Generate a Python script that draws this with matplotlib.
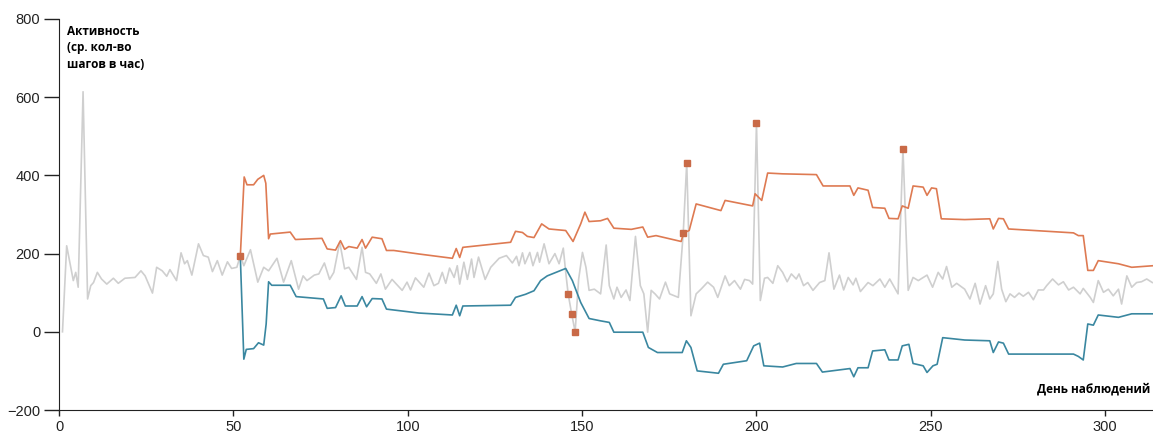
import matplotlib.pyplot as plt

# activity (gray line)
act_days = [1, 2.2, 4.1, 4.8, 5.5, 6.9, 8.2, 9.1, 9.9, 11, 12.2, 13.7, 15.6, 17, 18.9, 21.8,
            23.5, 24.7, 26.8, 28, 29.6, 30.9, 31.8, 33.7, 35, 36, 36.8, 38.1, 40, 41.4, 42.8,
            44, 45.4, 46.8, 48.3, 49.5, 51, 52, 53, 54.9, 57, 58.7, 60.1, 62.5, 64.4, 66.6,
            68.7, 70, 71.1, 73.2, 74.5, 76.1, 77.6, 78.8, 80.5, 81.9, 83.1, 85.3, 86.9, 87.9,
            89.1, 91, 92.3, 93.6, 95.5, 98.4, 99.8, 100.8, 102.2, 104.6, 106.1, 107.5, 108.8,
            109.9, 110.9, 112, 113.3, 114.2, 114.9, 116.1, 117.1, 118.3, 119, 120.3, 122.2,
            123.8, 126.2, 128.3, 130, 131.2, 131.9, 132.9, 133.6, 135, 135.9, 137.2, 137.8,
            139.1, 140.5, 142.2, 143.4, 144.6, 145.3, 146, 147, 148, 149, 150.1, 151.1, 152,
            153.5, 155.3, 156.9, 157.8, 159.1, 160, 161.2, 162.6, 163.7, 165.3, 166.7, 167.7,
            168.8, 169.8, 170.9, 172.2, 173.9, 175.1, 177.6, 179, 180, 181.2, 182.7, 184.1,
            186, 187.7, 188.9, 191, 192.2, 193.7, 195.4, 196.6, 198, 198.9, 200, 201.1, 202.3,
            203.2, 204.7, 206.1, 207.5, 208.8, 210, 211.4, 212.2, 213.5, 214.7, 216.2, 218.1,
            219.6, 220.8, 222.2, 223.8, 225, 226.3, 227.7, 228.5, 229.8, 232, 233.4, 235.4,
            236.8, 238.2, 240.6, 242, 243.5, 244.9, 246.4, 248.9, 250.5, 252.1, 253.4, 254.5,
            256, 257.4, 259.7, 261.2, 262.7, 264.1, 265.7, 266.9, 267.9, 269.2, 270.3, 271.5,
            272.7, 274, 275.3, 276.5, 278, 279.4, 280.8, 282.3, 283.2, 284.9, 286.6, 288,
            289.5, 290.9, 292.8, 293.7, 295.7, 296.6, 298, 299.5, 300.9, 302.3, 303.8, 304.7,
            306.2, 307.6, 309, 310.4, 311.9, 313.5]
act_vals = [0, 220, 131, 152, 114, 614, 84, 118, 126, 152, 135, 122, 137, 124, 137, 139,
            156, 143, 99, 165, 156, 142, 159, 131, 202, 174, 182, 145, 225, 195, 191,
            154, 182, 145, 179, 162, 165, 195, 169, 210, 127, 165, 156, 188, 127, 182,
            109, 143, 131, 145, 148, 176, 134, 152, 229, 161, 165, 134, 216, 152,
            148, 124, 148, 109, 134, 106, 127, 107, 138, 114, 150, 118, 124,
            152, 124, 163, 139, 169, 122, 178, 134, 186, 139, 191, 134,
            165, 188, 195, 176, 193, 169, 202, 174, 203, 169, 203, 178,
            225, 174, 200, 174, 214, 152, 97, 46, 0, 134, 203, 165, 106,
            109, 97, 222, 118, 84, 114, 88, 107, 80, 244, 118, 97,
            -1, 106, 97, 84, 127, 97, 88, 253, 432, 41, 97, 109,
            127, 114, 88, 143, 118, 131, 109, 134, 131, 122, 534, 80, 137,
            139, 124, 169, 152, 128, 148, 135, 148, 118, 126, 106, 126,
            131, 202, 109, 145, 107, 139, 120, 137, 103, 126, 118, 135,
            114, 135, 97, 468, 106, 139, 131, 145, 114, 152, 135, 167,
            114, 124, 109, 84, 124, 71, 118, 84, 97, 180, 109, 77,
            97, 88, 99, 91, 101, 82, 107, 107, 118, 135, 120, 128,
            107, 114, 97, 111, 88, 75, 131, 101, 109, 92, 109, 71,
            143, 114, 126, 128, 135, 126]

# upper bound (orange)
up_days = [52, 53.1, 53.9, 55.8, 57, 58.7, 59.3, 60.1, 60.6, 66.3, 67.8, 75.4, 76.9, 79.3,
           80.7, 81.9, 83.1, 85.5, 86.9, 87.9, 89.8, 92.6, 93.9, 96, 103.2, 112.8, 113.9,
           114.9, 115.8, 129.5, 130.9, 132.9, 134.3, 136.2, 138.4, 140.5, 145.3, 147.4,
           149.6, 150.8, 152, 155.3, 157.3, 159.1, 164.1, 167.4, 168.8, 171.2, 178.4, 179.1,
           180.7, 182.7, 189.8, 191, 198.9, 199.6, 201.5, 203.2, 207.5, 217.2, 219.1, 226.8,
           227.9, 229.1, 232, 233.3, 236.8, 238, 240.6, 241.8, 243.5, 244.9, 247.8, 248.9,
           250.2, 251.6, 253, 259.7, 266.9, 267.9, 269.4, 270.8, 272.3, 290.9, 292.3, 293.7,
           295, 296.6, 298, 303.8, 307.6, 313.7]
up_vals = [195, 396, 376, 376, 390, 400, 380, 238, 250, 255, 236, 239, 212, 209,
           233, 211, 218, 214, 236, 214, 242, 238, 208, 208, 199, 188, 213,
           190, 216, 229, 257, 254, 244, 241, 276, 263, 259, 231,
           276, 306, 282, 284, 290, 265, 262, 268, 242, 246, 231, 253,
           259, 327, 310, 336, 322, 353, 336, 406, 404, 402, 373, 373,
           349, 368, 362, 318, 316, 290, 289, 322, 316, 373, 370, 349,
           368, 366, 289, 287, 289, 263, 290, 289, 263, 253, 246, 246,
           157, 157, 182, 174, 165, 169]

# lower bound (blue)
lo_days = [52, 53, 53.7, 55.8, 57.2, 58.7, 59.4, 60.1, 61, 66.3, 68, 75.8, 76.9, 79.3,
           80.9, 82.1, 85.5, 86.9, 88.2, 89.8, 92.6, 93.9, 103.2, 112.8, 113.9, 114.9,
           115.8, 129.5, 130.9, 133.8, 136.2, 138.1, 140, 145.3, 147.2, 149.6, 152, 155.3,
           157.8, 159.1, 167.4, 169, 171.6, 178.7, 179.9, 181.2, 183, 189.1, 190.5, 197.2,
           199.2, 200.9, 202.1, 207.5, 211.4, 217.2, 218.9, 226.8, 227.9, 229.1, 232, 233.3,
           236.8, 238, 240.6, 241.8, 243.7, 244.9, 247.8, 248.9, 250.6, 251.8, 253.4, 259.7,
           266.9, 267.9, 269.4, 270.8, 272.3, 290.9, 292.3, 293.7, 295, 296.6, 298, 303.8,
           307.6, 313.7]
lo_vals = [190, -70, -45, -43, -28, -34, 20, 128, 119, 119, 90, 84, 60, 62,
           92, 66, 66, 90, 64, 85, 84, 58, 48, 43, 68, 41,
           66, 68, 88, 96, 105, 131, 143, 162, 131, 75, 34, 28,
           24, -1, -1, -40, -53, -53, -23, -40, -100, -106, -83, -74,
           -36, -29, -87, -90, -81, -81, -103, -94, -115, -92, -92, -49,
           -46, -72, -72, -36, -32, -81, -87, -104, -87, -83, -15, -21,
           -23, -53, -26, -29, -57, -57, -63, -72, 20, 17, 43, 37,
           46, 46]

# anomalies
anom_days = [52, 146, 147, 148, 179, 180, 200, 242]
anom_vals = [195, 97, 46, 0, 253, 432, 534, 468]

fig = plt.figure(figsize=(11.53, 4.32), dpi=100)
ax = fig.add_axes([59 / 1153, 22 / 432, 1 - 59 / 1153, 391 / 432])

ax.plot(act_days, act_vals, color='#cfcfcf', lw=1.2, solid_joinstyle='round')
ax.plot(up_days, up_vals, color='#de7a52', lw=1.2, solid_joinstyle='round')
ax.plot(lo_days, lo_vals, color='#3a87a0', lw=1.2, solid_joinstyle='round')
ax.plot(anom_days, anom_vals, ls='none', marker='s', ms=4.2, color='#c96a47')

ax.set_xlim(0, 313.7)
ax.set_ylim(-200, 800)
ax.set_xticks([0, 50, 100, 150, 200, 250, 300])
ax.set_yticks([-200, 0, 200, 400, 600, 800])
ax.spines['top'].set_visible(False)
ax.spines['right'].set_visible(False)
ax.spines['left'].set_color('#222222')
ax.spines['bottom'].set_color('#222222')
ax.tick_params(axis='both', width=1, color='#222222', labelcolor='#222222',
               labelsize=10.5, pad=3)
ax.tick_params(axis='y', length=10.5)
ax.tick_params(axis='x', length=4)
for lab in ax.get_xticklabels() + ax.get_yticklabels():
    lab.set_fontfamily('Liberation Sans')

fig.text(67 / 1153, 1 - 25 / 432, "Активность\n(ср. кол-во\nшагов в час)",
         ha='left', va='top', fontsize=8.5, fontweight='bold', family='Open Sans',
         linespacing=1.35)
fig.text(0.998, 1 - 389 / 432, "День наблюдений", ha='right', va='center',
         fontsize=8.5, fontweight='bold', family='Open Sans')

fig.savefig('out.png', dpi=100)
